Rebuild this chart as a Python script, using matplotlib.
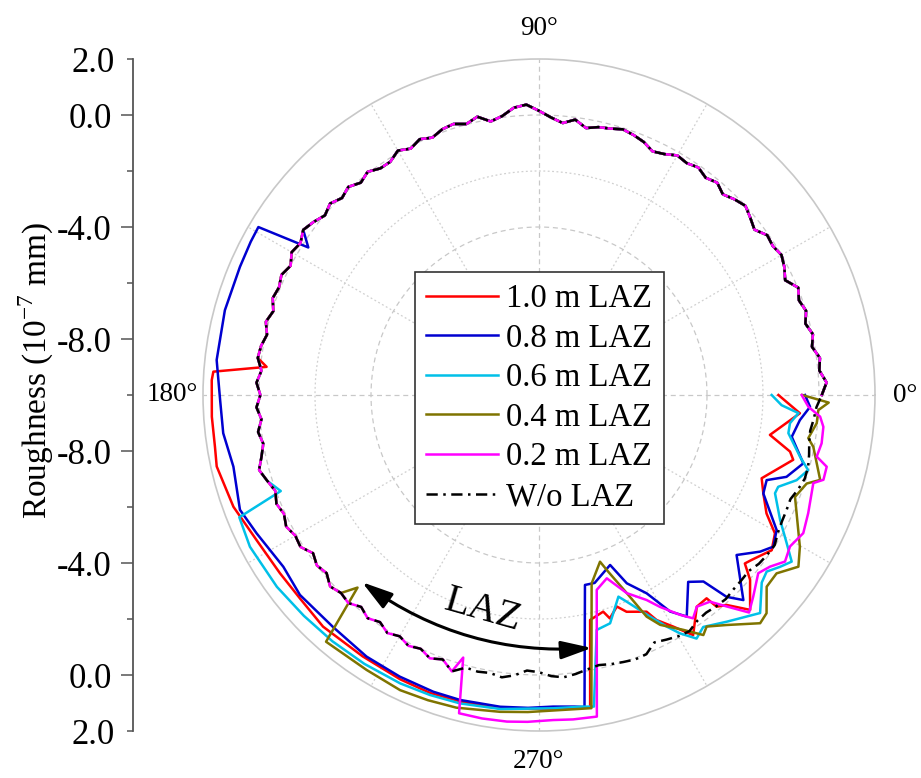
import numpy as np
import matplotlib.pyplot as plt
from matplotlib.ticker import FixedLocator

plt.rcParams['font.family'] = ['Liberation Serif', 'DejaVu Serif']
plt.rcParams['mathtext.fontset'] = 'custom'
plt.rcParams['mathtext.rm'] = 'Liberation Serif'

R_MIN, R_MAX = -10.0, 2.0

# W/o LAZ profile, one value every 2.5 deg starting at 0 deg
base_theta = np.arange(0, 360, 2.5)
base_r = [
    0.10, 0.28, 0.05, 0.12, -0.10, 0.02, -0.15, 0.00, -0.12, 0.02, -0.30, -0.12,
    0.00, -0.10, -0.05, -0.30, -0.15, 0.00, -0.12, -0.28, -0.10, -0.22, -0.08, -0.18,
    -0.12, -0.30, -0.40, -0.22, -0.12, -0.05, -0.15, -0.20, -0.32, -0.08, -0.25, -0.08,
    0.15, 0.38, 0.30, 0.05, -0.08, 0.18, 0.02, 0.15, 0.10, -0.05, 0.08, -0.08,
    0.08, -0.12, -0.12, 0.05, -0.10, 0.08, -0.05, 0.12, -0.02, 0.15, 0.28, 0.10,
    0.20, 0.00, 0.15, 0.05, 0.12, -0.05, 0.10, -0.05, 0.08, 0.13, -0.05, 0.10,
    -0.05, 0.10, -0.05, 0.12, 0.00, 0.15, 0.35, 0.18, 0.02, 0.15, 0.05, 0.18,
    0.05, 0.10, -0.15, 0.00, -0.10, 0.12, 0.00, 0.08, -0.12, 0.05, -0.10, 0.08,
    -0.05, 0.10, 0.00, 0.18, 0.05, 0.35, 0.08, 0.12, 0.08, 0.17, 0.05, -0.15,
    -0.10, 0.05, 0.12, 0.05, -0.05, -0.12, -0.05, 0.00, 0.05, 0.02, -0.25, -0.15,
    -0.05, 0.00, -0.15, -0.20, -0.15, -0.12, -0.18, -0.20, -0.22, -0.10, -0.05, -0.02,
    -0.15, -0.22, -0.25, -0.28, -0.15, -0.05, -0.05, -0.12, -0.20, -0.23, -0.15, -0.08,
]
base_end = 0.10  # value back at 360 deg

# each LAZ profile follows the base up to its departure angle, then its own points
dep_10, dep_08, dep_06, dep_04, dep_02 = 172.5, 145.0, 197.5, 225.0, 252.5

th_10 = [174.1, 175.9, 177.4, 183.8, 189.1, 192.5, 200.1, 207.2, 214.5, 220.4, 227.0, 236.0,
         244.0, 250.0, 256.0, 263.0, 272.0, 277.0, 279.3,
         282.8, 286.5, 287.6, 290.2, 292.0, 296.4, 297.6, 300.1, 302.7, 306.7, 309.5, 310.0,
         311.8, 314.5, 316.8, 318.8, 320.7, 322.2, 326.3, 329.6, 332.5, 336.3, 339.5, 345.7,
         347.3, 350.2, 356.0, 360.0]
r_10 = [-0.22, 1.66, 1.70, 1.71, 1.72, 1.79, 1.62, 1.34, 1.23, 1.21, 1.31, 1.26,
        1.30, 1.33, 1.30, 1.28, 1.21, 1.25, 1.30,
        -1.76, -1.93, -1.63, -1.95, -1.65, -1.36, -0.93, -0.44, 0.19, -0.57, -0.59, -0.13,
        0.06, 0.76, 0.34, 0.02, -0.50, -0.39, -0.01, -0.23, -0.84, -1.25, -1.51, -0.63,
        -0.81, -1.63, -0.66, -1.45]

th_08 = [147.4, 149.1, 152.0, 156.8, 164.9, 173.8, 180.9, 186.9, 193.2, 201.0, 206.1, 213.9,
         219.9, 228.4, 236.6, 243.7, 250.4, 255.5, 262.9, 268.0, 272.6, 276.5, 278.3,
         283.6, 286.5, 292.7, 295.0, 298.5, 301.2, 303.7, 308.6, 311.4, 312.9, 314.9, 321.0,
         324.7, 327.1, 330.4, 336.3, 339.5, 341.7, 345.5, 350.6, 354.5, 357.5, 360.0]
r_08 = [-0.22, 1.68, 1.66, 1.62, 1.62, 1.58, 1.39, 1.36, 1.21, 1.44, 1.23, 1.00,
        1.13, 1.08, 1.19, 1.22, 1.25, 1.25, 1.22, 1.18, 1.14, 1.20, 1.26,
        -3.02, -3.00, -3.42, -2.58, -1.94, -0.96, -0.49, -1.46, -1.12, -0.16, 0.34, -0.92,
        -0.32, -0.03, -0.24, -1.25, -1.32, -0.69, -0.25, -0.85, -0.64, -0.31, -0.50]

th_06 = [200.4, 202.2, 207.7, 216.2, 223.2, 230.0, 237.0, 244.3, 250.0, 255.6, 263.0, 272.6,
         278.0, 280.0,
         283.8, 287.3, 291.5, 293.0, 296.6, 298.9, 300.6, 302.9, 305.3, 309.6, 315.4, 319.9,
         322.2, 324.5, 326.6, 329.1, 332.6, 337.4, 339.0, 341.7, 344.4, 346.7, 351.3, 353.6,
         356.0, 357.6, 360.0]
r_06 = [-0.16, 1.56, 1.66, 1.60, 1.52, 1.48, 1.45, 1.43, 1.40, 1.37, 1.30, 1.20,
        1.24, 1.30,
        -1.36, -1.46, -2.26, -1.98, -1.15, -0.55, -0.11, 0.36, 0.15, 0.51, 1.09, 0.40,
        0.29, 0.57, 0.81, 0.31, -0.30, -0.87, -0.85, -0.31, -0.02, -0.42, -0.99, -0.98,
        -0.71, -1.33, -1.69]

th_04 = [226.7, 229.2, 237.9, 244.8, 250.0, 255.2, 263.0, 268.0, 272.6, 277.0, 279.5,
         285.6, 290.1, 291.4, 293.9, 295.9, 297.8, 301.6, 304.4, 305.9, 309.2, 314.1, 316.2,
         319.9, 323.1, 326.5, 329.8, 335.3, 338.3, 341.7, 343.2, 349.3, 350.9, 354.2, 356.9,
         358.5, 360.0]
r_04 = [-0.55, 1.64, 1.59, 1.65, 1.60, 1.55, 1.40, 1.33, 1.28, 1.30, 1.34,
        -3.01, -3.66, -3.22, -2.26, -1.20, -0.72, -0.15, 0.39, 0.21, 0.60, 1.35, 1.26,
        0.63, 0.61, 1.11, 0.78, 0.13, -0.16, 0.07, 0.49, -0.03, -0.26, -0.03, -0.01,
        0.35, -0.60]

th_02 = [253.9, 255.9, 260.0, 264.4, 268.0, 272.5, 276.0, 280.2,
         286.5, 290.3, 293.9, 297.7, 299.7, 302.7, 304.6, 306.7, 309.6, 311.6, 314.0, 316.7,
         320.9, 323.4, 325.9, 328.9, 332.4, 336.3, 342.2, 343.4, 346.0, 347.5, 350.3, 353.6,
         355.6, 357.5, 360.0]
r_02 = [-0.24, 1.72, 1.73, 1.72, 1.68, 1.62, 1.65, 1.67,
        -2.74, -3.02, -2.26, -1.73, -1.29, -0.67, -0.31, -0.57, -0.42, 0.10, 0.80, 0.51,
        0.09, 0.28, 0.61, 0.47, 0.65, 0.50, 0.29, 0.60, 0.59, 0.16, 0.24, 0.22,
        0.07, -0.37, -0.62]

labels = ['1.0 m LAZ', '0.8 m LAZ', '0.6 m LAZ', '0.4 m LAZ', '0.2 m LAZ', 'W/o LAZ']
colors = ['#ff0000', '#0000d0', '#00c0e8', '#7f7400', '#ff00ff', '#000000']

# radial axis ticks shown on the left scale
r_major = [0.0, -4.0, -8.0]
r_minor = [2.0, -2.0, -6.0, -10.0]


def laz_curve(dep, th_own, r_own):
    keep = base_theta <= dep
    th = np.concatenate([base_theta[keep], th_own])
    r = np.concatenate([np.array(base_r)[keep], r_own])
    return np.deg2rad(th), r


curves = [laz_curve(dep_10, th_10, r_10),
          laz_curve(dep_08, th_08, r_08),
          laz_curve(dep_06, th_06, r_06),
          laz_curve(dep_04, th_04, r_04),
          laz_curve(dep_02, th_02, r_02),
          (np.deg2rad(np.append(base_theta, 360.0)), np.append(base_r, base_end))]

W, H = 921, 778
fig = plt.figure(figsize=(W / 100, H / 100), dpi=100)
ax = fig.add_axes([203 / W, 47 / H, 672 / W, 672 / H], projection='polar')

for (th, r), lab, c in zip(curves, labels, colors):
    if lab.startswith('W/o'):
        ax.plot(th, r, color=c, lw=1.8, ls=(0, (4.5, 2.2, 1, 2.2)), label=lab)
    else:
        ax.plot(th, r, color=c, lw=1.8, label=lab)

ax.set_ylim(R_MIN, R_MAX)
ax.set_xticks(np.deg2rad([0, 90, 180, 270]))
ax.set_xticklabels(['0°', '90°', '180°', '270°'], fontsize=19.5)
ax.xaxis.set_minor_locator(FixedLocator(np.deg2rad([30, 60, 120, 150, 210, 240, 300, 330])))
ax.set_yticks([0, -4, -8])
ax.yaxis.set_minor_locator(FixedLocator([-2, -6]))
ax.set_yticklabels([])
ax.tick_params(axis='x', which='both', length=0, pad=15)
ax.tick_params(axis='y', which='both', length=0)
ax.grid(True, which='major', color='#c8c8c8', lw=0.9, ls=(0, (4, 3)))
ax.grid(True, which='minor', color='#d0d0d0', lw=0.9, ls=(0, (1.5, 2)))
ax.spines['polar'].set_color('#c8c8c8')
ax.spines['polar'].set_linewidth(1.2)

# LAZ arrow and label
ax.annotate('', xy=(np.deg2rad(281.8), -0.77), xytext=(np.deg2rad(226.6), -0.8),
            arrowprops=dict(arrowstyle='<|-|>,head_length=0.75,head_width=0.22',
                            connectionstyle='arc3,rad=0.18', color='black', lw=2.2,
                            mutation_scale=25, shrinkA=0, shrinkB=0))
ax.text(np.deg2rad(255.4), -2.06, 'LAZ', fontsize=29, rotation=-16,
        ha='center', va='center')

leg = ax.legend(loc='upper left', bbox_to_anchor=(415 / W, 1 - 272 / H),
                bbox_transform=fig.transFigure, borderaxespad=0, fontsize=23.5,
                fancybox=False, edgecolor='#333333', framealpha=1,
                handlelength=2.2, handletextpad=0.25, labelspacing=0.28, borderpad=0.35)
leg.get_frame().set_linewidth(1.2)

# left linear scale mirroring the radius on both sides of the centre
ax2 = fig.add_axes([133 / W, 47 / H, 0.05, 672 / H])
ax2.patch.set_visible(False)
for s in ['right', 'top', 'bottom']:
    ax2.spines[s].set_visible(False)
ax2.spines['left'].set_color('#555555')
ax2.spines['left'].set_linewidth(1.3)
ax2.set_xticks([])
span = R_MAX - R_MIN
ax2.set_ylim(-span, span)
maj_pos, maj_lab = [], []
for v in r_major:
    for sgn in (1, -1):
        maj_pos.append(sgn * (v - R_MIN))
        maj_lab.append(f'{v:.1f}')
min_pos, min_lab = [], []
for v in r_minor:
    for sgn in (1, -1):
        p = sgn * (v - R_MIN)
        if p in min_pos:
            continue
        min_pos.append(p)
        min_lab.append(f'{v:.1f}' if v == R_MAX else '')
ax2.set_yticks(maj_pos, maj_lab)
ax2.set_yticks(min_pos, min_lab, minor=True)
ax2.tick_params(axis='y', which='major', length=8.4, width=1.1, color='#555555',
                pad=7, labelsize=25)
ax2.tick_params(axis='y', which='minor', length=4.3, width=1.1, color='#555555',
                pad=8.7, labelsize=25)

fig.text(36 / W, 1 - 370 / H, 'Roughness (10$^{\\mathregular{-7}}$ mm)', rotation=90,
         ha='center', va='center', fontsize=24)

fig.savefig('out.png', dpi=100)
